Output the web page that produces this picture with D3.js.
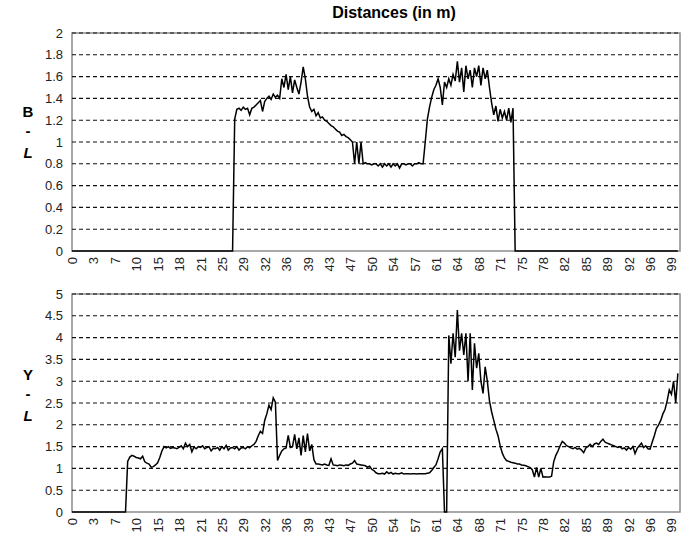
<!DOCTYPE html>
<html>
<head>
<meta charset="utf-8">
<script src="https://cdn.jsdelivr.net/npm/d3@7/dist/d3.min.js"></script>
<style>
  body { margin: 0; background: #fff; }
  svg { display: block; font-family: Arial, "Liberation Sans", sans-serif; }
</style>
</head>
<body>
<svg id="chart" width="686" height="541"></svg>
<script>
// Distance labels (one every 10 samples on the category axis)
const distanceLabels = ['0', '3', '7', '10', '15', '18', '21', '25', '29', '32', '36', '39', '43', '47', '50',
    '54', '57', '61', '64', '68', '71', '75', '78', '82', '85', '89', '92', '96', '99'];
const sampleCount = 284;

// B-L index, one value per sample
const blValues = [
    0, 0, 0, 0, 0, 0, 0, 0, 0, 0,
    0, 0, 0, 0, 0, 0, 0, 0, 0, 0,
    0, 0, 0, 0, 0, 0, 0, 0, 0, 0,
    0, 0, 0, 0, 0, 0, 0, 0, 0, 0,
    0, 0, 0, 0, 0, 0, 0, 0, 0, 0,
    0, 0, 0, 0, 0, 0, 0, 0, 0, 0,
    0, 0, 0, 0, 0, 0, 0, 0, 0, 0,
    0, 0, 0, 0, 0, 0, 1.21, 1.30, 1.31, 1.29,
    1.32, 1.30, 1.31, 1.25, 1.31, 1.32, 1.34, 1.36, 1.38, 1.28,
    1.37, 1.40, 1.42, 1.39, 1.44, 1.41, 1.43, 1.40, 1.58, 1.50,
    1.62, 1.48, 1.60, 1.45, 1.57, 1.50, 1.44, 1.55, 1.69, 1.58,
    1.42, 1.32, 1.28, 1.30, 1.24, 1.27, 1.22, 1.23, 1.20, 1.19,
    1.17, 1.15, 1.14, 1.12, 1.10, 1.09, 1.06, 1.07, 1.05, 1.04,
    1.02, 1.00, 0.80, 1.00, 0.80, 1.00, 0.80, 0.81, 0.80, 0.80,
    0.79, 0.80, 0.80, 0.78, 0.80, 0.77, 0.80, 0.78, 0.80, 0.77,
    0.80, 0.78, 0.80, 0.76, 0.80, 0.80, 0.79, 0.80, 0.80, 0.78,
    0.80, 0.80, 0.81, 0.80, 0.80, 1.00, 1.21, 1.32, 1.41, 1.48,
    1.52, 1.58, 1.50, 1.34, 1.55, 1.50, 1.58, 1.52, 1.62, 1.56,
    1.74, 1.55, 1.68, 1.46, 1.70, 1.58, 1.66, 1.50, 1.68, 1.60,
    1.70, 1.52, 1.68, 1.58, 1.66, 1.50, 1.36, 1.25, 1.33, 1.19,
    1.30, 1.22, 1.28, 1.20, 1.31, 1.18, 1.31, 0, 0, 0,
    0, 0, 0, 0, 0, 0, 0, 0, 0, 0,
    0, 0, 0, 0, 0, 0, 0, 0, 0, 0,
    0, 0, 0, 0, 0, 0, 0, 0, 0, 0,
    0, 0, 0, 0, 0, 0, 0, 0, 0, 0,
    0, 0, 0, 0, 0, 0, 0, 0, 0, 0,
    0, 0, 0, 0, 0, 0, 0, 0, 0, 0,
    0, 0, 0, 0, 0, 0, 0, 0, 0, 0,
    0, 0, 0, 0
];

// Y-L index, one value per sample
const ylValues = [
    0, 0, 0, 0, 0, 0, 0, 0, 0, 0,
    0, 0, 0, 0, 0, 0, 0, 0, 0, 0,
    0, 0, 0, 0, 0, 0, 1.16, 1.26, 1.30, 1.28,
    1.25, 1.24, 1.22, 1.28, 1.15, 1.12, 1.10, 1.03, 1.04, 1.08,
    1.13, 1.25, 1.40, 1.50, 1.47, 1.50, 1.46, 1.48, 1.47, 1.45,
    1.48, 1.52, 1.45, 1.58, 1.50, 1.55, 1.38, 1.49, 1.45, 1.50,
    1.48, 1.52, 1.45, 1.48, 1.50, 1.40, 1.46, 1.45, 1.48, 1.42,
    1.50, 1.45, 1.53, 1.42, 1.47, 1.48, 1.45, 1.50, 1.42, 1.47,
    1.48, 1.45, 1.50, 1.47, 1.52, 1.55, 1.62, 1.75, 1.85, 1.80,
    2.10, 2.25, 2.45, 2.35, 2.62, 2.52, 1.18, 1.30, 1.40, 1.45,
    1.47, 1.76, 1.48, 1.50, 1.78, 1.45, 1.70, 1.30, 1.75, 1.38,
    1.80, 1.40, 1.55, 1.20, 1.10, 1.10, 1.09, 1.08, 1.10, 1.08,
    1.07, 1.22, 1.08, 1.07, 1.06, 1.08, 1.07, 1.06, 1.08, 1.07,
    1.10, 1.12, 1.18, 1.10, 1.09, 1.08, 1.07, 1.06, 1.03, 1.05,
    0.98, 0.95, 0.90, 0.88, 0.88, 0.89, 0.87, 0.92, 0.88, 0.91,
    0.87, 0.89, 0.88, 0.88, 0.90, 0.87, 0.88, 0.88, 0.87, 0.88,
    0.88, 0.87, 0.88, 0.88, 0.88, 0.88, 0.89, 0.90, 0.95, 1.02,
    1.08, 1.22, 1.38, 1.45, 0, 0, 4.05, 3.40, 4.10, 3.55,
    4.63, 3.70, 4.10, 3.60, 4.10, 3.00, 4.10, 2.80, 3.87, 3.30,
    3.64, 3.00, 2.72, 3.33, 3.00, 2.55, 2.30, 2.10, 1.90, 1.75,
    1.52, 1.35, 1.24, 1.18, 1.16, 1.14, 1.13, 1.12, 1.10, 1.10,
    1.08, 1.07, 1.06, 1.04, 1.02, 0.97, 0.80, 1.02, 0.80, 1.00,
    0.80, 0.81, 0.80, 0.80, 0.82, 1.15, 1.30, 1.40, 1.52, 1.62,
    1.58, 1.52, 1.50, 1.47, 1.45, 1.48, 1.44, 1.46, 1.42, 1.36,
    1.47, 1.50, 1.55, 1.50, 1.56, 1.58, 1.55, 1.62, 1.67, 1.60,
    1.58, 1.56, 1.54, 1.52, 1.50, 1.48, 1.50, 1.45, 1.47, 1.42,
    1.48, 1.44, 1.50, 1.34, 1.46, 1.52, 1.58, 1.48, 1.52, 1.45,
    1.44, 1.60, 1.75, 1.92, 2.00, 2.10, 2.25, 2.35, 2.55, 2.80,
    2.70, 3.00, 2.50, 3.18
];

// Value axis ticks
const blTicks = [0, 0.2, 0.4, 0.6, 0.8, 1, 1.2, 1.4, 1.6, 1.8, 2];
const ylTicks = [0, 0.5, 1, 1.5, 2, 2.5, 3, 3.5, 4, 4.5, 5];

const svg = d3.select('#chart');
const plotLeft = 72, plotRight = 680;

const xScale = d3.scaleLinear()
    .domain([0, sampleCount])
    .range([plotLeft, plotRight]);

// Title
svg.append('text')
    .attr('x', 394)
    .attr('y', 18)
    .attr('text-anchor', 'middle')
    .style('font-size', '16px')
    .style('font-weight', 'bold')
    .text('Distances (in m)');

drawPanel({ values: blValues, ticks: blTicks, top: 33, bottom: 251, letter: 'B', titleY: 117 });
drawPanel({ values: ylValues, ticks: ylTicks, top: 294, bottom: 512, letter: 'Y', titleY: 380 });

function drawPanel(p) {
    const yScale = d3.scaleLinear()
        .domain([0, d3.max(p.ticks)])
        .range([p.bottom, p.top]);

    const g = svg.append('g');

    // Plot frame
    g.append('rect')
        .attr('x', plotLeft)
        .attr('y', p.top)
        .attr('width', plotRight - plotLeft)
        .attr('height', p.bottom - p.top)
        .attr('fill', 'none')
        .attr('stroke', '#8c8c8c')
        .attr('stroke-width', 1.5);

    // Dashed gridlines
    g.selectAll('.grid')
        .data(p.ticks.filter(t => t > 0))
        .enter()
        .append('line')
        .attr('x1', plotLeft)
        .attr('x2', plotRight - 1)
        .attr('y1', d => yScale(d))
        .attr('y2', d => yScale(d))
        .attr('stroke', '#111')
        .attr('stroke-width', 1.1)
        .attr('stroke-dasharray', '4,3');

    // Y axis labels
    const yAxis = g.append('g')
        .attr('transform', `translate(${plotLeft}, 0)`)
        .call(d3.axisLeft(yScale).tickValues(p.ticks).tickSize(0).tickPadding(9).tickFormat(d3.format('')));
    yAxis.select('.domain').remove();
    yAxis.selectAll('text')
        .style('font-size', '13px')
        .style('font-family', 'Arial, "Liberation Sans", sans-serif')
        .attr('fill', '#222');

    // X axis labels, rotated
    const xAxis = g.append('g')
        .attr('transform', `translate(0, ${p.bottom})`)
        .call(d3.axisBottom(xScale)
            .tickValues(distanceLabels.map((d, i) => i * 10))
            .tickFormat((d, i) => distanceLabels[i])
            .tickSize(0));
    xAxis.select('.domain').remove();
    xAxis.selectAll('text')
        .attr('transform', 'rotate(-90)')
        .attr('text-anchor', 'end')
        .attr('x', -6)
        .attr('y', 0)
        .attr('dy', '0.35em')
        .style('font-size', '13px')
        .style('font-family', 'Arial, "Liberation Sans", sans-serif')
        .attr('fill', '#222');

    // Series line
    const line = d3.line()
        .x((d, i) => xScale(i))
        .y(d => yScale(d));

    g.append('path')
        .datum(p.values)
        .attr('fill', 'none')
        .attr('stroke', '#000')
        .attr('stroke-width', 1.5)
        .attr('stroke-linejoin', 'miter')
        .attr('d', line);

    // Axis title: letter, dash, italic L stacked
    const title = g.append('g')
        .style('font-size', '15px')
        .style('font-weight', 'bold')
        .attr('text-anchor', 'middle');
    title.append('text').attr('x', 28).attr('y', p.titleY).text(p.letter);
    title.append('text').attr('x', 28).attr('y', p.titleY + 19).text('-');
    title.append('text').attr('x', 28).attr('y', p.titleY + 41).style('font-style', 'italic').text('L');
}
</script>
</body>
</html>
